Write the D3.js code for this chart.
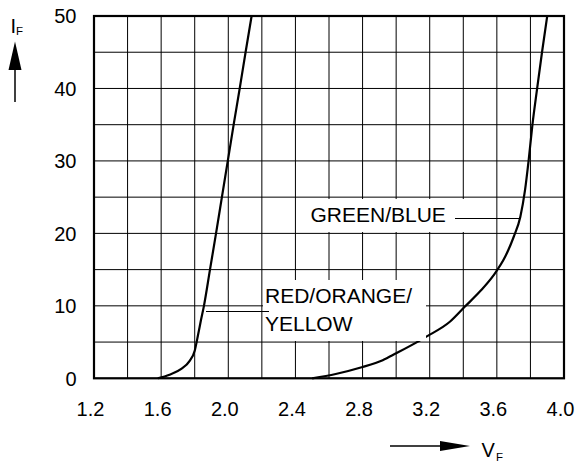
<!DOCTYPE html>
<html>
<head>
<meta charset="utf-8">
<script src="https://cdn.jsdelivr.net/npm/d3@7/dist/d3.min.js"></script>
<style>
  html, body { margin: 0; padding: 0; background: #fff; }
  svg { display: block; }
  text { font-family: "Liberation Sans", Arial, sans-serif; fill: #000; }
</style>
</head>
<body>
<svg id="chart" width="578" height="464"></svg>
<script>
// ---- data ----
const xTickLabels = ["1.2", "1.6", "2.0", "2.4", "2.8", "3.2", "3.6", "4.0"];
const yTickLabels = ["0", "10", "20", "30", "40", "50"];
const seriesNames = ["RED/ORANGE/YELLOW", "GREEN/BLUE"];
// forward voltage V_F (V)
const redV   = [1.58, 1.65, 1.72, 1.77, 1.80, 1.82, 1.837, 1.855, 1.891, 1.927, 1.962, 1.997, 2.032, 2.068, 2.103, 2.139];
// forward current I_F (mA)
const redI   = [0,    0.5,  1.3,  2.4,  3.8,  6.0,  8.0,   10,    15,    20,    25,    30,    35,    40,    45,    50];
const greenV = [2.50, 2.64, 2.80, 2.92, 3.00, 3.14, 3.18, 3.32, 3.41, 3.50, 3.58, 3.65, 3.70, 3.74, 3.768, 3.789, 3.812, 3.840, 3.869, 3.900];
const greenI = [0,    0.6,  1.55, 2.5,  3.45, 5.2,  5.75, 7.8,  9.9,  12.0, 14.2, 16.8, 19.5, 22.3, 26,    30,    35,    40,    45,    50];

// ---- layout ----
const svg = d3.select("#chart");
const x = d3.scaleLinear().domain([1.2, 4.0]).range([94, 564]);
const y = d3.scaleLinear().domain([0, 50]).range([378.3, 16]);

// grid
const g = svg.append("g");
g.selectAll("line.vx").data(x.ticks(14)).enter().append("line")
  .attr("x1", d => x(d)).attr("x2", d => x(d))
  .attr("y1", y(0)).attr("y2", y(50))
  .attr("stroke", "#000").attr("stroke-width", 1);
g.selectAll("line.hy").data(y.ticks(10)).enter().append("line")
  .attr("x1", x(1.2)).attr("x2", x(4.0))
  .attr("y1", d => y(d)).attr("y2", d => y(d))
  .attr("stroke", "#000").attr("stroke-width", 1);

// curves
const line = d3.line().x(d => x(d[0])).y(d => y(d[1])).curve(d3.curveMonotoneX);
const redData = redV.map((v, i) => [v, redI[i]]);
const greenData = greenV.map((v, i) => [v, greenI[i]]);
[redData, greenData].forEach(data => {
  svg.append("path").datum(data).attr("d", line)
    .attr("fill", "none").attr("stroke", "#000").attr("stroke-width", 2.2)
    .attr("stroke-linejoin", "round");
});

// label boxes (white) and labels
svg.append("rect").attr("x", 263).attr("y", 280).attr("width", 163).attr("height", 61).attr("fill", "#fff");
svg.append("rect").attr("x", 300).attr("y", 199).attr("width", 168).attr("height", 33).attr("fill", "#fff");

const redParts = ["RED/ORANGE/", "YELLOW"];
svg.append("text").attr("x", 265).attr("y", 303.3).attr("font-size", 21).text(redParts[0]);
svg.append("text").attr("x", 265).attr("y", 330.7).attr("font-size", 21).text(redParts[1]);
svg.append("text").attr("x", 310.5).attr("y", 222.3).attr("font-size", 21).text(seriesNames[1]);

// leader lines
svg.append("line").attr("x1", 206).attr("x2", 269).attr("y1", 311.5).attr("y2", 311.5)
  .attr("stroke", "#000").attr("stroke-width", 1);
svg.append("line").attr("x1", 455).attr("x2", 519).attr("y1", 218.5).attr("y2", 218.5)
  .attr("stroke", "#000").attr("stroke-width", 1);

// frame
svg.append("rect").attr("x", x(1.2)).attr("y", y(50))
  .attr("width", x(4.0) - x(1.2)).attr("height", y(0) - y(50))
  .attr("fill", "none").attr("stroke", "#000").attr("stroke-width", 2.2);

// tick labels
svg.selectAll("text.xl").data(xTickLabels).enter().append("text")
  .attr("x", d => x(+d) - 3.5).attr("y", 416)
  .attr("text-anchor", "middle").attr("font-size", 20).text(d => d);
svg.selectAll("text.yl").data(yTickLabels).enter().append("text")
  .attr("x", 76.5).attr("y", d => y(+d) + 7.2)
  .attr("text-anchor", "end").attr("font-size", 20).text(d => d);

// axis titles with arrows
// I_F
svg.append("text").attr("x", 10.5).attr("y", 33.3).attr("font-size", 20).text("I");
svg.append("text").attr("x", 16).attr("y", 34.5).attr("font-size", 11.5).text("F");
svg.append("line").attr("x1", 15).attr("x2", 15).attr("y1", 102).attr("y2", 66)
  .attr("stroke", "#000").attr("stroke-width", 1.5);
svg.append("path").attr("d", "M15,41.5 L21.5,70 L8.5,70 Z").attr("fill", "#000");
// V_F
svg.append("line").attr("x1", 390).attr("x2", 444).attr("y1", 446).attr("y2", 446)
  .attr("stroke", "#000").attr("stroke-width", 1.5);
svg.append("path").attr("d", "M470,446 L440,441 L440,451 Z").attr("fill", "#000");
svg.append("text").attr("x", 481.5).attr("y", 456.7).attr("font-size", 20).text("V");
svg.append("text").attr("x", 496).attr("y", 461).attr("font-size", 11.5).text("F");
</script>
</body>
</html>
